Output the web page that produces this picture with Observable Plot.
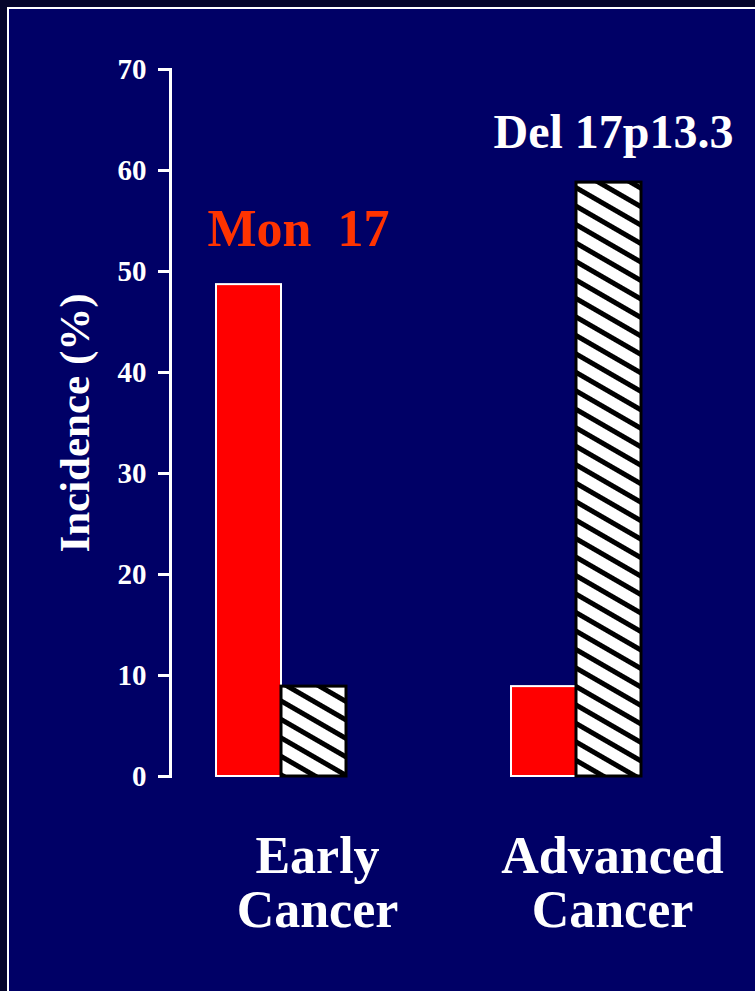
<!DOCTYPE html>
<html>
<head>
<meta charset="utf-8">
<script src="https://cdn.jsdelivr.net/npm/d3@7"></script>
<script src="https://cdn.jsdelivr.net/npm/@observablehq/plot@0.6"></script>
<style>
  html, body { margin: 0; padding: 0; width: 755px; height: 991px; overflow: hidden; background: #05052b; }
  #frame { position: absolute; left: 7px; top: 7px; width: 820px; height: 1100px; border: 2px solid #ffffff; background: #000066; }
  #chart { position: absolute; left: 0; top: 0; }
  #chart text { white-space: pre; }
</style>
</head>
<body>
<div id="frame"></div>
<div id="chart"></div>
<script>
const groups = ["Early Cancer", "Advanced Cancer"];
const groupLabels = ["Early\nCancer", "Advanced\nCancer"];
const seriesNames = ["Mon  17", "Del 17p13.3"];
const mon17 = [48.7, 8.9];
const del17p = [8.9, 58.8];
const yTicks = [0, 10, 20, 30, 40, 50, 60, 70];

const monData = groups.map((g, i) => ({group: g, value: mon17[i]}));
const delData = groups.map((g, i) => ({group: g, value: del17p[i]}));
const labelData = groups.map((g, i) => ({group: g, label: groupLabels[i]}));

const serif = "'Liberation Serif', 'Times New Roman', serif";

const chart = Plot.plot({
  width: 755,
  height: 991,
  marginLeft: 170,
  marginRight: 69,
  marginTop: 69,
  marginBottom: 215,
  style: {background: "transparent", color: "white", fontFamily: serif},
  x: {domain: groups, paddingInner: 0.56, paddingOuter: 0.152, axis: null},
  y: {domain: [0, 70], axis: null},
  marks: [
    Plot.axisY({ticks: yTicks, tickSize: 12, tickPadding: 12, tickFormat: d => String(d),
      fontSize: 29, fontWeight: "bold", stroke: "white", strokeWidth: 3, fill: "white", label: null}),
    Plot.frame({anchor: "left", stroke: "white", strokeWidth: 3}),
    Plot.barY(monData, {x: "group", y: "value", fill: "#ff0000", stroke: "white", strokeWidth: 2, insetRight: 65, insetLeft: 0}),
    Plot.barY(delData, {x: "group", y: "value", fill: "url(#hatch)", stroke: "black", strokeWidth: 3, insetLeft: 65, insetRight: 0}),
    Plot.text([monData[0]], {x: "group", y: "value", text: () => seriesNames[0], dx: 17, dy: -55,
      fill: "#ff3300", fontSize: 52, fontWeight: "bold", lineAnchor: "middle"}),
    Plot.text([delData[1]], {x: "group", y: "value", text: () => seriesNames[1], dx: 37, dy: -50,
      fill: "white", fontSize: 48, fontWeight: "bold", lineAnchor: "middle"}),
    Plot.text(labelData, {x: "group", y: () => 0, text: "label", dx: 36, dy: 58, lineAnchor: "top",
      lineHeight: 1.04, fill: "white", fontSize: 52, fontWeight: "bold"}),
    Plot.text(["Incidence (%)"], {frameAnchor: "left", textAnchor: "middle", dx: -95, rotate: -90, lineAnchor: "middle",
      fill: "white", fontSize: 43, fontWeight: "bold"})
  ]
});

const svg = d3.select(chart);
const defs = svg.insert("defs", ":first-child");
const pat = defs.append("pattern")
  .attr("id", "hatch")
  .attr("patternUnits", "userSpaceOnUse")
  .attr("width", 16)
  .attr("height", 16)
  .attr("patternTransform", "rotate(30)");
pat.append("rect").attr("width", 16).attr("height", 16).attr("fill", "white");
pat.append("rect").attr("width", 16).attr("height", 5).attr("fill", "black");

document.getElementById("chart").appendChild(chart);
</script>
</body>
</html>
